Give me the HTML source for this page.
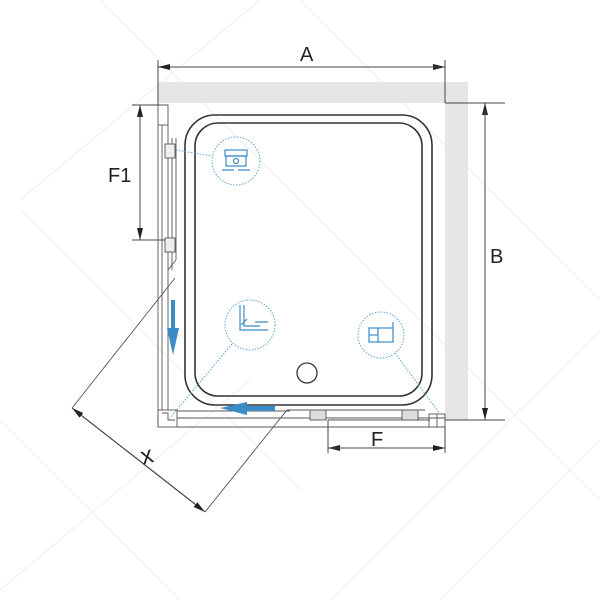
<!DOCTYPE html>
<html><head><meta charset="utf-8"><style>
html,body{margin:0;padding:0;background:#fff;}
svg{display:block;font-family:"Liberation Sans",sans-serif;}
</style></head><body>
<svg width="600" height="600" viewBox="0 0 600 600" xmlns="http://www.w3.org/2000/svg">
<defs>
<marker id="ar" markerWidth="12" markerHeight="6" refX="12" refY="3" orient="auto" markerUnits="userSpaceOnUse"><path d="M0,0 L12,3 L0,6 Z" fill="#222"/></marker>
</defs>
<g stroke="#f2f2f2" stroke-width="1.2" fill="none">
<path d="M20,210 L300,490 M20,200 L260,0 M0,590 L250,380 M300,0 L600,300 M330,600 L600,330 M440,600 L600,440 M100,0 L600,500 M0,420 L180,600"/>
</g>
<rect x="158" y="82" width="310" height="21" fill="#e6e6e6"/>
<rect x="445" y="82" width="23" height="338" fill="#e6e6e6"/>
<g stroke="#444" stroke-width="1" fill="none">
<line x1="158" y1="60" x2="158" y2="105"/>
<line x1="445" y1="60" x2="445" y2="103"/>
<line x1="445" y1="103" x2="505" y2="103"/>
<line x1="170" y1="67" x2="445" y2="67" marker-end="url(#ar)"/>
<line x1="440" y1="67" x2="158" y2="67" marker-end="url(#ar)"/>
<line x1="485" y1="415" x2="485" y2="103" marker-end="url(#ar)"/>
<line x1="485" y1="110" x2="485" y2="420" marker-end="url(#ar)"/>
<line x1="445" y1="420" x2="505" y2="420"/>
<line x1="132" y1="105" x2="168" y2="105"/>
<line x1="132" y1="240" x2="168" y2="240"/>
<line x1="140" y1="230" x2="140" y2="105" marker-end="url(#ar)"/>
<line x1="140" y1="115" x2="140" y2="240" marker-end="url(#ar)"/>
<line x1="328" y1="420" x2="328" y2="453"/>
<line x1="445" y1="427" x2="445" y2="453"/>
<line x1="340" y1="448" x2="328" y2="448" marker-end="url(#ar)"/>
<line x1="330" y1="448" x2="445" y2="448" marker-end="url(#ar)"/>
<line x1="195" y1="504" x2="72" y2="408" marker-end="url(#ar)"/>
<line x1="82" y1="416" x2="205" y2="512" marker-end="url(#ar)"/>
<line x1="72" y1="408" x2="175" y2="278" stroke-width="0.8"/>
<line x1="205" y1="512" x2="287" y2="410" stroke-width="0.8"/>
</g>
<rect x="185" y="115" width="247" height="290" rx="30" fill="none" stroke="#333" stroke-width="1.6"/>
<rect x="195" y="123" width="227" height="273" rx="23" fill="none" stroke="#333" stroke-width="1.6"/>
<circle cx="307" cy="373" r="10" fill="none" stroke="#333" stroke-width="1.3"/>
<g stroke="#555" stroke-width="0.9" fill="none">
<rect x="158" y="105" width="10" height="20"/>
<line x1="158" y1="125" x2="158" y2="427"/>
<line x1="162" y1="125" x2="162" y2="410"/>
<line x1="168" y1="125" x2="168" y2="410"/>
<line x1="172" y1="138" x2="172" y2="270"/>
<line x1="168" y1="270" x2="176" y2="260"/>
<line x1="176" y1="138" x2="176" y2="260"/>
<rect x="165" y="144" width="10" height="14" fill="#eee"/>
<rect x="165" y="238" width="10" height="14" fill="#eee"/>
<rect x="158" y="410" width="19" height="17"/>
<path d="M162,413 L168,413 L168,420 L175,420"/>
<line x1="177" y1="418" x2="445" y2="418"/>
<line x1="177" y1="427" x2="445" y2="427"/>
<line x1="177" y1="411" x2="290" y2="411"/>
<line x1="287" y1="410" x2="425" y2="410"/>
<line x1="328" y1="420" x2="430" y2="420"/>
<rect x="429" y="414" width="16" height="13"/>
<line x1="437" y1="414" x2="437" y2="427"/>
<rect x="310" y="410" width="16" height="10" fill="#ddd"/>
<rect x="402" y="410" width="16" height="10" fill="#ddd"/>
</g>
<g fill="#3a8cc8">
<rect x="171" y="300" width="4" height="30"/>
<polygon points="167,328 179,328 173,355"/>
<rect x="245" y="406" width="30" height="5"/>
<polygon points="247,402 247,415 220,408"/>
</g>
<g stroke="#5aa6d6" stroke-width="1" fill="none" stroke-dasharray="1.5,1.5">
<circle cx="236" cy="161" r="24"/>
<line x1="176" y1="150" x2="212" y2="156"/>
<circle cx="250" cy="325" r="25"/>
<line x1="232" y1="344" x2="170" y2="418"/>
<circle cx="381" cy="335" r="23"/>
<line x1="395" y1="353" x2="440" y2="414"/>
</g>
<g stroke="#3a8cc8" stroke-width="1.2" fill="none">
<rect x="225" y="150" width="22" height="6"/>
<rect x="226" y="156" width="20" height="10"/>
<circle cx="236" cy="161" r="2.5"/>
<path d="M222,170 h12 M238,170 h12"/>
<path d="M240,305 v25 h17 M244,305 v21 h16 M255,322 h13 M255,330 h13"/>
<path d="M241,325 l6,-6" />
<rect x="369" y="328" width="24" height="14"/>
<line x1="378" y1="328" x2="378" y2="342"/>
<line x1="369" y1="335" x2="378" y2="335"/>
<line x1="393" y1="322" x2="393" y2="328"/>
</g>
<g fill="#222" font-size="20">
<text x="300" y="61">A</text>
<text x="490" y="263">B</text>
<text x="108" y="182">F1</text>
<text x="371" y="446">F</text>
<text x="141" y="463" font-size="24" transform="rotate(-15 148 456)">x</text>
</g>
</svg>
</body></html>
